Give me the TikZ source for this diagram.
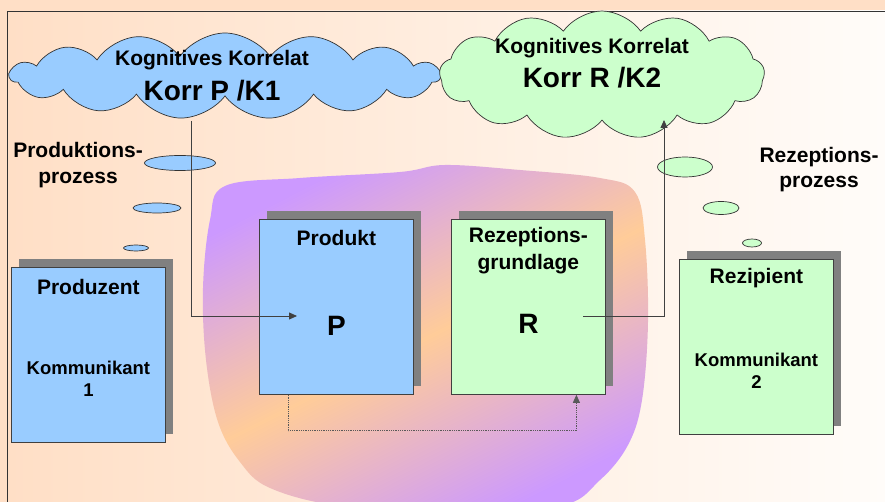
\documentclass[tikz,border=0pt]{standalone}
\usepackage{fontspec}
\setmainfont{Liberation Sans}
\usetikzlibrary{positioning,calc,shapes.symbols,shapes.geometric,shadows,arrows.meta}

\definecolor{peach}{HTML}{FFDFC6}
\definecolor{paper}{HTML}{FFFCF9}
\definecolor{prodblue}{HTML}{99CCFF}
\definecolor{rezgreen}{HTML}{CCFFCC}
\definecolor{lilac}{HTML}{CC99FF}
\definecolor{apricot}{HTML}{FFCC99}
\definecolor{shadowgray}{HTML}{808080}

\begin{document}
\begin{tikzpicture}[x=1pt, y=-1pt, >={Triangle[length=8pt,width=7pt]},
  txt/.style = {font=\bfseries\fontsize{21}{26}\selectfont, inner sep=0pt, align=center},
  kommtxt/.style = {font=\bfseries\fontsize{18.5}{22}\selectfont, inner sep=0pt, align=center},
  bigtxt/.style = {font=\bfseries\fontsize{28}{32}\selectfont, inner sep=0pt},
  card/.style = {draw=black!75, line width=0.8pt, anchor=north west, minimum width=154pt, minimum height=175pt, inner sep=0pt,
    drop shadow={shadow xshift=8pt, shadow yshift=8pt, fill=shadowgray, opacity=1}},
  puff/.style = {draw=black!80, line width=0.7pt, cloud, cloud puffs=15, cloud puff arc=110, cloud ignores aspect, inner sep=0pt},
  bubble/.style = {draw=black!80, line width=0.7pt, ellipse, inner sep=0pt},
  link/.style = {draw=black!75, line width=0.8pt}]
  \clip (0,0) rectangle (885,502);
  % background and frame
  \fill[peach] (0,0) rectangle (885,502);
  \shade[left color=peach, right color=paper] (7,11) rectangle (885,502);
  \draw[black!80, line width=0.8pt] (885,11) -- (7,11) -- (7,502);
  % blob behind the two middle boxes
  \shade[left color=lilac, right color=lilac, middle color=apricot, shading angle=27]
    plot[smooth cycle, tension=0.6] coordinates {(225,186) (300,178) (400,172) (445,165) (520,170) (600,178) (635,192) (645,240)
      (648,322) (642,400) (628,445) (600,480) (560,506) (450,512) (340,506) (270,488) (240,462) (218,422) (206,360) (203,288) (210,220)};

  % boxes
  \node[card, fill=prodblue] (prodz) at (11,267) {};
  \node[card, fill=prodblue] (prodk) at (259,219) {};
  \node[card, fill=rezgreen] (rezg) at (451,219) {};
  \node[card, fill=rezgreen] (rezp) at (679,259) {};
  \node[txt] at ($(prodz.north)+(0,20)$) {Produzent};
  \node[kommtxt] at ($(prodz.north)+(0,112)$) {Kommunikant\\1};
  \node[txt] at ($(prodk.north)+(0,19)$) {Produkt};
  \node[bigtxt] (P) at ($(prodk.north)+(0,107)$) {P};
  \node[txt, font=\bfseries\fontsize{21}{27}\selectfont] at ($(rezg.north)+(0,32)$) {Rezeptions-\\grundlage};
  \node[bigtxt] (R) at ($(rezg.north)+(0,105)$) {R};
  \node[txt] at ($(rezp.north)+(0,19)$) {Rezipient};
  \node[kommtxt] at ($(rezp.north)+(0,112)$) {Kommunikant\\2};

  % thought bubbles
  \node[bubble, fill=prodblue, minimum width=71pt, minimum height=15pt] (pb1) at (180,163) {};
  \node[bubble, fill=prodblue, minimum width=48pt, minimum height=10pt] (pb2) at (157,208) {};
  \node[bubble, fill=prodblue, minimum width=25pt, minimum height=6pt] (pb3) at (136,248) {};
  \node[bubble, fill=rezgreen, minimum width=55pt, minimum height=20pt] (rb1) at (685,167) {};
  \node[bubble, fill=rezgreen, minimum width=36pt, minimum height=13pt] (rb2) at (721,208) {};
  \node[bubble, fill=rezgreen, minimum width=19pt, minimum height=8pt] (rb3) at (752,243) {};

  % clouds
  \node[puff, fill=prodblue, minimum width=430pt, minimum height=86pt] (kp) at (225,76) {};
  \node[txt] at (212,60) {Kognitives Korrelat};
  \node[bigtxt] at (212,91) {Korr P /K1};
  \node[puff, cloud puffs=13, fill=rezgreen, minimum width=325pt, minimum height=128pt] (kr) at (602,75) {};
  \node[txt] at (592,48) {Kognitives Korrelat};
  \node[bigtxt] at (592,78) {Korr R /K2};

  \node[txt] (prodproc) at (78,165) {Produktions-\\prozess};
  \node[txt, font=\bfseries\fontsize{21}{25}\selectfont] (rezproc) at (819,170) {Rezeptions-\\prozess};

  % connectors
  \coordinate (kpfoot) at (191,121);
  \coordinate (pin) at (297,316);
  \coordinate (rout) at (583,316);
  \coordinate (krfoot) at (664,120);
  \draw[link, ->] (kpfoot) |- (pin);
  \draw[link, ->] (rout) -| (krfoot);
  \draw[link, black!65, densely dotted, ->] ([xshift=-48pt]prodk.south) -- ++(0,36) -| ([xshift=48pt]rezg.south);
\end{tikzpicture}
\end{document}
